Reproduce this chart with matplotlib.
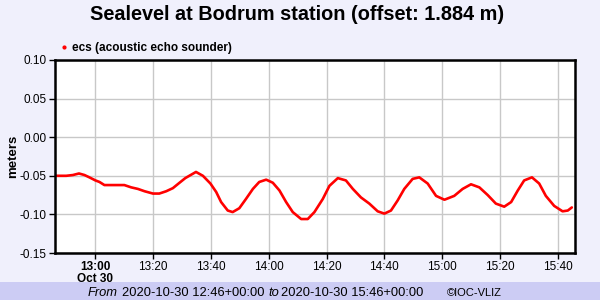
"""Sea level at Bodrum station, IOC-style plot."""

import matplotlib
matplotlib.use("Agg")
import matplotlib.pyplot as plt
import pandas as pd
from matplotlib.lines import Line2D

# minutes after 13:00 UTC, 2020-10-30
minutes = [
    -13.6, -13.0, -10.1, -7.8, -5.7, -3.8, -2.1, 0.0, 1.4, 3.1, 6.6, 10.0,
    12.4, 14.7, 17.0, 19.9, 22.1, 24.5, 26.8, 29.1, 31.1, 34.8, 37.2, 39.8,
    41.8, 43.5, 45.8, 47.5, 49.8, 52.1, 54.5, 56.7, 59.1, 61.4, 63.7, 66.0,
    68.3, 71.2, 73.5, 75.8, 78.7, 81.0, 83.9, 86.7, 89.1, 91.9, 94.8, 97.7,
    100.0, 102.3, 104.6, 106.9, 109.8, 112.1, 115.0, 117.9, 120.8, 124.2,
    127.1, 130.0, 132.9, 135.8, 138.6, 141.5, 143.9, 146.2, 148.4, 151.1,
    153.6, 155.9, 158.8, 161.7, 163.5, 164.9,
]
sealevel = [
    -0.050, -0.050, -0.050, -0.049, -0.047, -0.049, -0.052, -0.056, -0.058,
    -0.062, -0.062, -0.062, -0.065, -0.067, -0.070, -0.073, -0.073, -0.070,
    -0.066, -0.059, -0.053, -0.045, -0.050, -0.060, -0.071, -0.084, -0.095,
    -0.097, -0.092, -0.080, -0.067, -0.058, -0.055, -0.059, -0.069, -0.084,
    -0.097, -0.106, -0.106, -0.097, -0.080, -0.063, -0.053, -0.056, -0.067,
    -0.078, -0.086, -0.096, -0.099, -0.095, -0.082, -0.067, -0.054, -0.052,
    -0.060, -0.076, -0.081, -0.076, -0.067, -0.061, -0.065, -0.075, -0.086,
    -0.090, -0.084, -0.069, -0.056, -0.052, -0.060, -0.076, -0.089, -0.096,
    -0.095, -0.091,
]

base = pd.Timestamp("2020-10-30 13:00")
times = [base + pd.Timedelta(minutes=m) for m in minutes]
t_start = pd.Timestamp("2020-10-30 12:46")
t_end = pd.Timestamp("2020-10-30 15:46")

y_ticks = [-0.15, -0.10, -0.05, 0.00, 0.05, 0.10]
x_ticks = pd.date_range("2020-10-30 13:00", "2020-10-30 15:40", freq="20min")

plt.rcParams["font.family"] = ["Liberation Sans", "DejaVu Sans"]

fig = plt.figure(figsize=(6, 3), dpi=100, facecolor="#f0f0fc")
ax = fig.add_axes([55 / 600, 1 - 253 / 300, 520 / 600, 193 / 300])
ax.set_facecolor("white")

ax.plot(times, sealevel, color="red", linewidth=1.9, solid_capstyle="round")

ax.set_xlim(t_start, t_end)
ax.set_ylim(-0.15, 0.10)
ax.set_yticks(y_ticks)
ax.set_yticklabels([f"{v:.2f}" for v in y_ticks], fontsize=8.5)
ax.set_xticks(x_ticks)
labels = [t.strftime("%H:%M") for t in x_ticks]
labels[0] = labels[0] + "\nOct 30"
ax.set_xticklabels(labels, fontsize=8.5, linespacing=0.95, va="top")
ax.get_xticklabels()[0].set_fontweight("bold")
ax.tick_params(length=4, width=1, pad=2)
ax.grid(color="#c8c8c8", linewidth=1)
ax.set_axisbelow(True)
for spine in ax.spines.values():
    spine.set_linewidth(1.8)

ax.set_ylabel("meters", fontsize=9.5, fontweight="bold")
ax.yaxis.set_label_coords(-36 / 520, 0.5)

fig.text(0.495, 1 - 15 / 300, "Sealevel at Bodrum station (offset: 1.884 m)",
         fontsize=14.3, fontweight="bold", ha="center", va="center")

handle = Line2D([], [], color="red", marker="o", markersize=2, linestyle="none")
ax.legend([handle], ["ecs (acoustic echo sounder)"], loc="lower left",
          bbox_to_anchor=(-0.005, 1.0), frameon=False, handletextpad=0.2,
          prop={"weight": "bold", "size": 8.5}, handlelength=1.0,
          borderaxespad=0.1)

# footer band
fig.patches.append(plt.Rectangle((0, 0), 1, 18 / 300, transform=fig.transFigure,
                                 facecolor="#ccccf4", edgecolor="none", zorder=-1))
fy = 1 - 293 / 300
fig.text(88 / 600, fy, "From", fontsize=9.3, style="italic", va="center")
fig.text(122 / 600, fy, "2020-10-30 12:46+00:00", fontsize=9.3, va="center")
fig.text(268 / 600, fy, "to", fontsize=9.3, style="italic", va="center")
fig.text(281 / 600, fy, "2020-10-30 15:46+00:00", fontsize=9.3, va="center")
fig.text(447 / 600, fy, "\u00a9IOC-VLIZ", fontsize=8, va="center")

fig.savefig("out.png", dpi=100, facecolor=fig.get_facecolor())
